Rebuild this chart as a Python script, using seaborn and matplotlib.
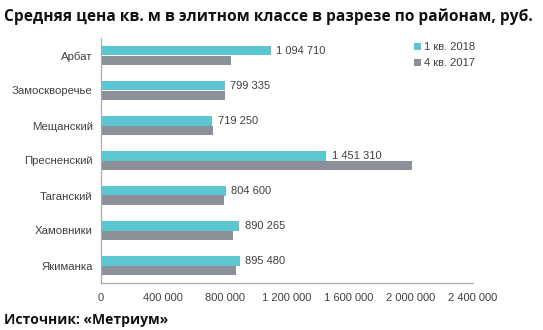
import matplotlib
matplotlib.use("Agg")
import matplotlib.pyplot as plt
import seaborn as sns
import pandas as pd
from matplotlib.ticker import FuncFormatter, FixedLocator

districts = ["Арбат", "Замоскворечье", "Мещанский", "Пресненский", "Таганский", "Хамовники", "Якиманка"]
q1_2018 = [1094710, 799335, 719250, 1451310, 804600, 890265, 895480]
q4_2017 = [839000, 800000, 721000, 2005000, 795000, 854000, 869000]
series_names = ["1 кв. 2018", "4 кв. 2017"]
title = "Средняя цена кв. м в элитном классе в разрезе по районам, руб."
source = "Источник: «Метриум»"

df = pd.DataFrame({
    "district": districts * 2,
    "value": q1_2018 + q4_2017,
    "series": [series_names[0]] * len(districts) + [series_names[1]] * len(districts),
})

sns.set_theme(style="white")
plt.rcParams["font.family"] = ["Liberation Sans", "DejaVu Sans"]

fig = plt.figure(figsize=(5.43, 3.30), dpi=100)
ax = fig.add_axes([101/543, 1 - 283/330, (473-101)/543, (283-38)/330])

palette = {series_names[0]: "#5BC6D2", series_names[1]: "#8B9098"}
sns.barplot(data=df, y="district", x="value", hue="series", order=districts,
            hue_order=series_names, palette=palette, orient="h", width=0.56,
            saturation=1, linewidth=0, edgecolor="none", ax=ax, legend=True)

fmt = lambda v: f"{int(v):,}".replace(",", " ")
ax.bar_label(ax.containers[0], labels=[fmt(v) for v in q1_2018], padding=4,
             fontsize=8, color="#404040")

ax.set_xlim(0, 2400000)
ax.set_xticks(range(0, 2400001, 400000))
ax.xaxis.set_major_formatter(FuncFormatter(lambda v, p: fmt(v)))
ax.set_xlabel("")
ax.set_ylabel("")
ax.set_ylim(6.5, -0.5)

for s in ["top", "right"]:
    ax.spines[s].set_visible(False)
for s in ["left", "bottom"]:
    ax.spines[s].set_color("#ABABAB")
    ax.spines[s].set_linewidth(0.9)

ax.tick_params(axis="x", which="major", length=4, width=0.8, color="#ABABAB",
               direction="out", labelsize=8, labelcolor="#404040", pad=3)
ax.tick_params(axis="y", which="major", length=0, labelsize=8.2, labelcolor="#404040", pad=6)
ax.yaxis.set_minor_locator(FixedLocator([i - 0.5 for i in range(len(districts) + 1)]))
ax.tick_params(axis="y", which="minor", length=4, width=0.8, color="#ABABAB", direction="out")

leg = ax.legend(loc="upper left", bbox_to_anchor=(0.83, 1.0), frameon=False,
                fontsize=8, handlelength=0.6, handleheight=0.6, handletextpad=0.3,
                labelspacing=0.5, borderaxespad=0)
for t in leg.get_texts():
    t.set_color("#404040")

fig.text(0.008, 1 - 17/330, title, fontsize=11.2, fontweight="bold",
         family=["Open Sans", "DejaVu Sans"], ha="left", va="center", color="#111111")
fig.text(0.008, 1 - 320/330, source, fontsize=10, fontweight="bold",
         family=["Open Sans", "DejaVu Sans"], ha="left", va="center", color="#111111")

fig.savefig("out.png", dpi=100)
